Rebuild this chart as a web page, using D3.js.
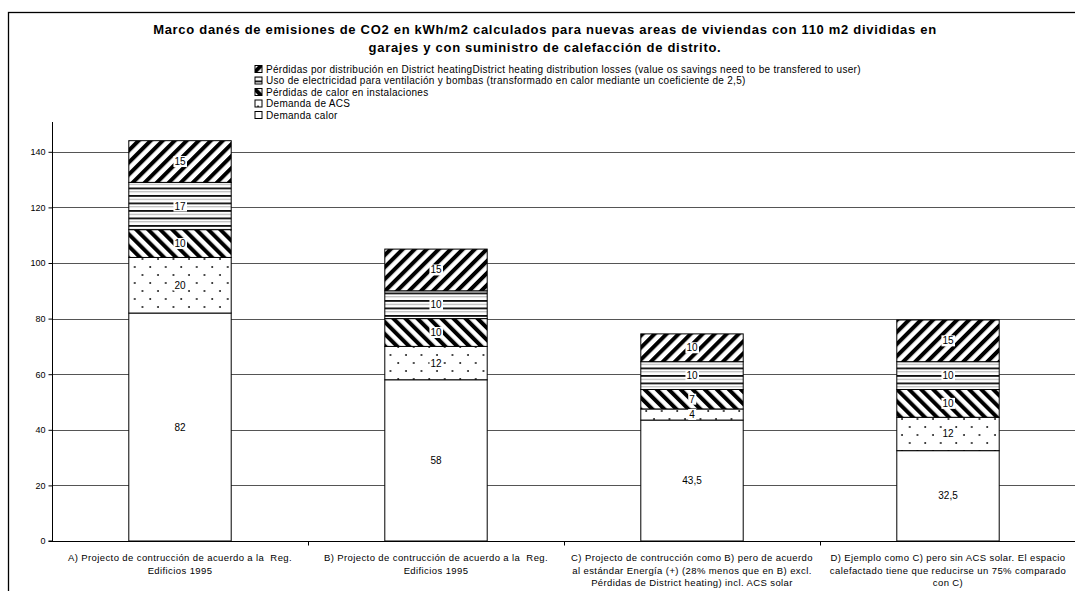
<!DOCTYPE html>
<html>
<head>
<meta charset="utf-8">
<script src="https://d3js.org/d3.v7.min.js"></script>
<style>
  body { margin: 0; background: #fff; }
  svg { display: block; font-family: "Liberation Sans", Arial, sans-serif; }
  text { white-space: pre; }
</style>
</head>
<body>
<div id="chart"></div>
<script>
var width = 1075;
var height = 591;

// data
var categories = [
  ["A) Projecto de contrucción de acuerdo a la  Reg.", "Edificios 1995"],
  ["B) Projecto de contrucción de acuerdo a la  Reg.", "Edificios 1995"],
  ["C) Projecto de contrucción como B) pero de acuerdo", "al estándar Energía (+) (28% menos que en B) excl.", "Pérdidas de District heating) incl. ACS solar"],
  ["D) Ejemplo como C) pero sin ACS solar. El espacio", "calefactado tiene que reducirse un 75% comparado", "con C)"]
];
var seriesNames = [
  "Demanda calor",
  "Demanda de ACS",
  "Pérdidas de calor en instalaciones",
  "Uso de electricidad para ventilación y bombas (transformado en calor mediante un coeficiente de 2,5)",
  "Pérdidas por distribución en District heatingDistrict heating distribution losses (value os savings need to be transfered to user)"
];
var demandaCalor = [82, 58, 43.5, 32.5];
var demandaACS = [20, 12, 4, 12];
var perdidasInstal = [10, 10, 7, 10];
var usoElectricidad = [17, 10, 10, 10];
var perdidasDistrib = [15, 15, 10, 15];
var yTicks = [0, 20, 40, 60, 80, 100, 120, 140];
var title = ["Marco danés de emisiones de CO2 en kWh/m2 calculados para nuevas areas de viviendas con 110 m2 divididas en",
             "garajes y con suministro de calefacción de distrito."];

var seriesValues = [demandaCalor, demandaACS, perdidasInstal, usoElectricidad, perdidasDistrib];
var patternIds = ["p-blank", "p-dots", "p-back", "p-horiz", "p-fwd"];

var svg = d3.select('#chart')
    .append('svg')
    .attr('width', width)
    .attr('height', height);

// patterns
var defs = svg.append('defs');

defs.append('pattern').attr('id', 'p-blank')
    .attr('patternUnits', 'userSpaceOnUse').attr('width', 8).attr('height', 8)
  .append('rect').attr('width', 8).attr('height', 8).attr('fill', '#fff');

var dots = defs.append('pattern').attr('id', 'p-dots')
    .attr('patternUnits', 'userSpaceOnUse').attr('width', 15.5).attr('height', 16);
dots.append('rect').attr('width', 15.5).attr('height', 16).attr('fill', '#fff');
dots.append('circle').attr('cx', 3).attr('cy', 3).attr('r', 0.9).attr('fill', '#000');
dots.append('circle').attr('cx', 10.75).attr('cy', 11).attr('r', 0.9).attr('fill', '#000');

function stripes(id, angle) {
  var p = defs.append('pattern').attr('id', id)
      .attr('patternUnits', 'userSpaceOnUse').attr('width', 8.5).attr('height', 8.5)
      .attr('patternTransform', 'rotate(' + angle + ')');
  p.append('rect').attr('width', 8.5).attr('height', 8.5).attr('fill', '#fff');
  p.append('rect').attr('width', 4).attr('height', 8.5).attr('fill', '#000');
}
stripes('p-fwd', 45);
stripes('p-back', -45);

var hz = defs.append('pattern').attr('id', 'p-horiz')
    .attr('patternUnits', 'userSpaceOnUse').attr('width', 8).attr('height', 7.5);
hz.append('rect').attr('width', 8).attr('height', 7.5).attr('fill', '#fff');
hz.append('rect').attr('y', 0).attr('width', 8).attr('height', 1.8).attr('fill', '#111');
hz.append('rect').attr('y', 4).attr('width', 8).attr('height', 0.8).attr('fill', '#999');

// frame
svg.append('rect')
    .attr('x', 8.5).attr('y', 12.5)
    .attr('width', 1100).attr('height', 700)
    .attr('fill', 'none').attr('stroke', '#000').attr('stroke-width', 1.3);

// title
svg.append('g').selectAll('text')
    .data(title)
    .enter().append('text')
    .attr('x', 545)
    .attr('y', function(d, i) { return 34 + i * 18; })
    .attr('text-anchor', 'middle')
    .attr('font-size', '13px')
    .attr('font-weight', 'bold')
    .attr('letter-spacing', '0.7px')
    .text(function(d) { return d; });

// scales
var x = d3.scaleBand().domain(d3.range(categories.length)).range([52, 1076]).paddingInner(0).paddingOuter(0);
var y = d3.scaleLinear().domain([0, 150]).range([541, 124]);

// gridlines
svg.append('g').selectAll('line')
    .data(yTicks.filter(function(d) { return d > 0; }))
    .enter().append('line')
    .attr('x1', 52).attr('x2', 1076)
    .attr('y1', function(d) { return Math.round(y(d)) + 0.5; })
    .attr('y2', function(d) { return Math.round(y(d)) + 0.5; })
    .attr('stroke', '#555').attr('stroke-width', 1);

// stacked bars
var stackData = categories.map(function(c, i) {
  var row = { i: i };
  seriesValues.forEach(function(s, k) { row['s' + k] = s[i]; });
  return row;
});
var stack = d3.stack().keys(seriesValues.map(function(s, k) { return 's' + k; }));
var layers = stack(stackData);

var barW = x.bandwidth() * 0.4;

var layerG = svg.append('g').selectAll('g')
    .data(layers)
    .enter().append('g')
    .attr('fill', function(d, k) { return 'url(#' + patternIds[k] + ')'; });

layerG.selectAll('rect')
    .data(function(d) { return d; })
    .enter().append('rect')
    .attr('x', function(d) { return x(d.data.i) + (x.bandwidth() - barW) / 2; })
    .attr('y', function(d) { return y(d[1]); })
    .attr('width', barW)
    .attr('height', function(d) { return y(d[0]) - y(d[1]); })
    .attr('stroke', '#000')
    .attr('stroke-width', 1);

// value labels with white boxes
var fmt = function(v) { return String(v).replace('.', ','); };
var labelG = svg.append('g');
layers.forEach(function(layer) {
  layer.forEach(function(d) {
    var v = d[1] - d[0];
    var cx = x(d.data.i) + x.bandwidth() / 2;
    var cy = (y(d[0]) + y(d[1])) / 2;
    var t = labelG.append('text')
        .attr('x', cx).attr('y', cy + 3.5)
        .attr('text-anchor', 'middle')
        .attr('font-size', '10px')
        .text(fmt(v));
    var bb = t.node().getBBox();
    labelG.insert('rect', 'text')
        .attr('x', bb.x - 1).attr('y', bb.y)
        .attr('width', bb.width + 2).attr('height', bb.height)
        .attr('fill', '#fff');
  });
});
labelG.selectAll('text').raise();

// y axis
var yAxis = d3.axisLeft(y).tickValues(yTicks).tickSize(4).tickPadding(3).tickFormat(d3.format('d'));
var yAxisGroup = svg.append('g')
    .attr('transform', 'translate(52.5,0)')
    .call(yAxis);
yAxisGroup.select('.domain').attr('d', 'M-4,' + y(0) + 'H0V' + (y(150) - 2));
yAxisGroup.selectAll('text').attr('font-size', '9px').attr('font-family', '"Liberation Sans", Arial, sans-serif');

// x axis
svg.append('line')
    .attr('x1', 52).attr('x2', 1076)
    .attr('y1', y(0) + 0.5).attr('y2', y(0) + 0.5)
    .attr('stroke', '#000');
svg.append('g').selectAll('line')
    .data(d3.range(1, categories.length))
    .enter().append('line')
    .attr('x1', function(d) { return x(d) + 0.5; })
    .attr('x2', function(d) { return x(d) + 0.5; })
    .attr('y1', y(0)).attr('y2', y(0) + 4.5)
    .attr('stroke', '#000');

var xl = svg.append('g').selectAll('text')
    .data(categories)
    .enter().append('text')
    .attr('text-anchor', 'middle')
    .attr('font-size', '9.5px')
    .attr('letter-spacing', '0.4px')
    .attr('x', function(d, i) { return x(i) + x.bandwidth() / 2; });
xl.selectAll('tspan')
    .data(function(d, i) { return d.map(function(l) { return { l: l, i: i }; }); })
    .enter().append('tspan')
    .attr('x', function(d) { return x(d.i) + x.bandwidth() / 2; })
    .attr('y', function(d, j) { return 561 + j * 12.5; })
    .text(function(d) { return d.l; });

// legend (top series first)
var legendOrder = d3.range(seriesNames.length).reverse();
var leg = svg.append('g').selectAll('g')
    .data(legendOrder)
    .enter().append('g')
    .attr('transform', function(d, j) { return 'translate(255,' + (69 + j * 11.5) + ')'; });
leg.append('rect')
    .attr('x', 0).attr('y', -3.5).attr('width', 7).attr('height', 7)
    .attr('fill', function(k) { return 'url(#' + patternIds[k] + ')'; })
    .attr('stroke', '#000').attr('stroke-width', 1);
leg.append('text')
    .attr('x', 11).attr('y', 3.5)
    .attr('font-size', '10px')
    .attr('letter-spacing', '0.3px')
    .text(function(k) { return seriesNames[k]; });
</script>
</body>
</html>
